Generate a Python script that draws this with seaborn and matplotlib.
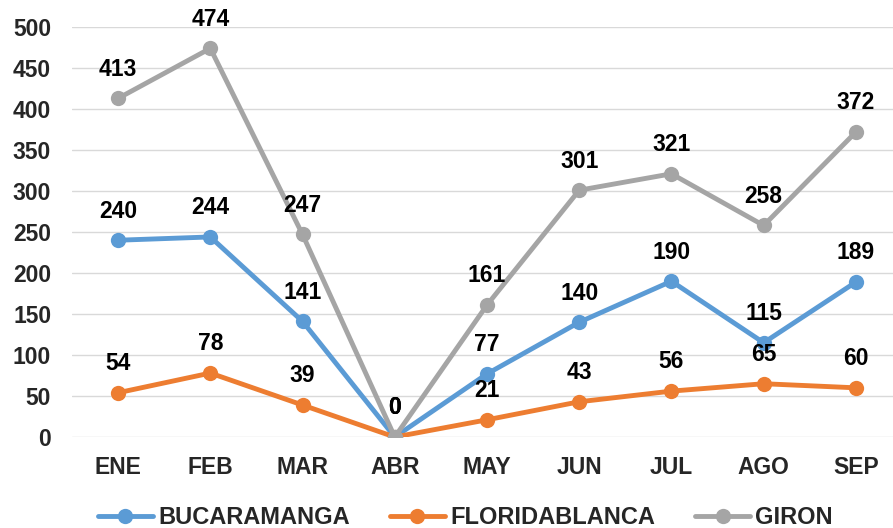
import pandas as pd
import matplotlib.pyplot as plt
import seaborn as sns

meses = ["ENE", "FEB", "MAR", "ABR", "MAY", "JUN", "JUL", "AGO", "SEP"]
bucaramanga = [240, 244, 141, 0, 77, 140, 190, 115, 189]
floridablanca = [54, 78, 39, 0, 21, 43, 56, 65, 60]
giron = [413, 474, 247, 0, 161, 301, 321, 258, 372]

series = {"BUCARAMANGA": bucaramanga, "FLORIDABLANCA": floridablanca, "GIRON": giron}
colores = {"BUCARAMANGA": "#5B9BD5", "FLORIDABLANCA": "#ED7D31", "GIRON": "#A5A5A5"}

rows = []
for nombre, vals in series.items():
    for i, v in enumerate(vals):
        rows.append({"idx": i, "mes": meses[i], "valor": v, "municipio": nombre})
df = pd.DataFrame(rows)

sns.set_style("white")
plt.rcParams['font.family'] = ['Liberation Sans', 'DejaVu Sans']
plt.rcParams['font.weight'] = 'bold'

FS = 16.5

fig = plt.figure(figsize=(8.93, 5.28), dpi=100)
ax = fig.add_axes([0.0806, 0.1723, 0.9295, 0.7765])

sns.lineplot(data=df, x="idx", y="valor", hue="municipio", palette=colores,
             marker="o", markersize=11, markeredgewidth=0, linewidth=3.5,
             dashes=False, ax=ax, legend=True)

for nombre, vals in series.items():
    for i, v in enumerate(vals):
        ax.annotate(str(v), (i, v), xytext=(0, 21), textcoords="offset points",
                    ha="center", va="center", fontsize=FS, fontweight="bold",
                    color="black")

ax.set_xlim(-0.5, 8.5)
ax.set_ylim(0, 500)
ax.set_yticks(range(0, 501, 50))
ax.set_xticks(range(len(meses)))
ax.set_xticklabels(meses)
ax.tick_params(axis="both", length=0, labelsize=FS)
ax.tick_params(axis="x", pad=14)
ax.tick_params(axis="y", pad=15)
for lab in ax.get_xticklabels() + ax.get_yticklabels():
    lab.set_fontweight("bold")
ax.grid(axis="y", color="#D9D9D9", linewidth=1)
ax.set_axisbelow(True)
sns.despine(ax=ax, left=True, bottom=True, top=True, right=True)
ax.set_xlabel("")
ax.set_ylabel("")

handles, labels = ax.get_legend_handles_labels()
ax.legend(handles, labels, loc="center", bbox_to_anchor=(0.521, 0.02),
          bbox_transform=fig.transFigure, ncol=3, frameon=False,
          prop={"size": 17, "weight": "bold"}, handlelength=2.35,
          columnspacing=1.7, handletextpad=0.2)

fig.savefig("out.png", dpi=100)
